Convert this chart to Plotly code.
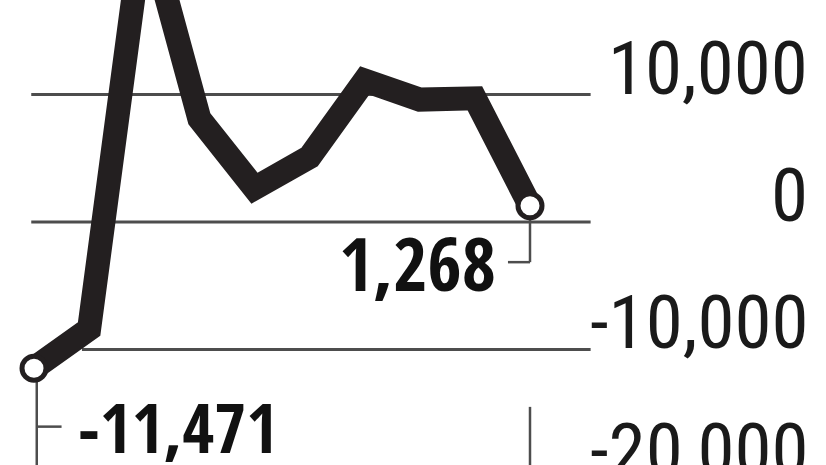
import plotly.graph_objects as go

# ---- data ----
PERIODS = [1, 2, 3, 4, 5, 6, 7, 8, 9, 10]
VALUES = [-11471, -8400, 24000, 8100, 2650, 5100, 11100, 9600, 9700, 1268]
TICK_VALUES = [10000, 0, -10000, -20000]
TICK_LABELS = ["10,000", "0", "-10,000", "-20,000"]
FIRST_LABEL = "-11,471"
LAST_LABEL = "1,268"

# ---- style ----
INK = "#231f20"
GRID = "#4d4d4d"
AXIS_FONT = "Roboto Condensed, DejaVu Sans Condensed, sans-serif"
LABEL_FONT = "Open Sans Condensed, Roboto Condensed, sans-serif"
X_RANGE = [0.383, 15.371]
Y_RANGE = [-19059, 17412]


def yfrac(v):
    return (v - Y_RANGE[0]) / (Y_RANGE[1] - Y_RANGE[0])


fig = go.Figure()

# gridlines (short, ending before the labels)
grid_start = {10000: 0.95, 0: 0.95, -10000: 1.87}
shapes = []
for tv in TICK_VALUES:
    if Y_RANGE[0] <= tv <= Y_RANGE[1]:
        shapes.append(dict(type="line", xref="x", yref="y",
                           x0=grid_start.get(tv, 0.95), x1=11.1, y0=tv, y1=tv,
                           line=dict(color=GRID, width=3), layer="below"))

# leader lines for the end labels
x_first, y_first = PERIODS[0], VALUES[0]
x_last, y_last = PERIODS[-1], VALUES[-1]
shapes += [
    dict(type="line", xref="x", yref="y", x0=x_first + 0.05, x1=x_first + 0.05,
         y0=y_first, y1=Y_RANGE[0] - 2000, line=dict(color=GRID, width=2.5), layer="below"),
    dict(type="line", xref="x", yref="y", x0=x_first + 0.05, x1=x_first + 0.5,
         y0=-16050, y1=-16050, line=dict(color=GRID, width=2.5), layer="below"),
    dict(type="line", xref="x", yref="y", x0=x_last, x1=x_last,
         y0=y_last, y1=-3150, line=dict(color=GRID, width=2.5), layer="below"),
    dict(type="line", xref="x", yref="y", x0=x_last, x1=x_last - 0.4,
         y0=-3150, y1=-3150, line=dict(color=GRID, width=2.5), layer="below"),
    dict(type="line", xref="x", yref="y", x0=x_last, x1=x_last,
         y0=-14500, y1=Y_RANGE[0] - 2000, line=dict(color=GRID, width=2.5), layer="below"),
]

fig.add_trace(go.Scatter(
    x=PERIODS, y=VALUES, mode="lines",
    line=dict(color=INK, width=24),
    hoverinfo="skip", showlegend=False,
))
fig.add_trace(go.Scatter(
    x=[x_first, x_last], y=[y_first, y_last], mode="markers",
    marker=dict(symbol="circle", size=24, color="white",
                line=dict(color=INK, width=5)),
    hoverinfo="skip", showlegend=False, cliponaxis=False,
))

annotations = []
for tv, tl in zip(TICK_VALUES, TICK_LABELS):
    annotations.append(dict(
        xref="paper", yref="paper", x=810 / 826, y=yfrac(tv),
        xanchor="right", yanchor="bottom", yshift=-19,
        text=tl, showarrow=False,
        font=dict(family=AXIS_FONT, size=75, color="#1a1a1a"),
    ))

annotations.append(dict(
    xref="x", yref="y", x=x_first, y=y_first,
    xanchor="left", yanchor="top", xshift=42, yshift=-9,
    text="<b>%s</b>" % FIRST_LABEL, showarrow=False,
    font=dict(family=LABEL_FONT, size=69, color="#111111"),
))
annotations.append(dict(
    xref="x", yref="y", x=x_last, y=y_last,
    xanchor="right", yanchor="top", xshift=-32, yshift=-4,
    text="<b>%s</b>" % LAST_LABEL, showarrow=False,
    font=dict(family=LABEL_FONT, size=74, color="#111111"),
))

fig.update_layout(
    width=826, height=465,
    margin=dict(l=0, r=0, t=0, b=0),
    paper_bgcolor="white", plot_bgcolor="white",
    xaxis=dict(range=X_RANGE, visible=False, showgrid=False, zeroline=False),
    yaxis=dict(range=Y_RANGE, visible=False, showgrid=False, zeroline=False),
    shapes=shapes, annotations=annotations,
)

fig.write_html("out.html", config={"displayModeBar": False},
               post_script="document.body.style.margin='0';document.body.style.overflow='hidden';")
